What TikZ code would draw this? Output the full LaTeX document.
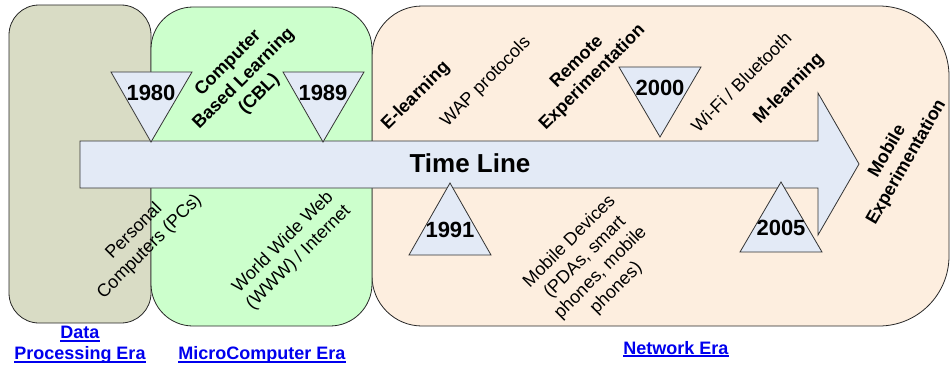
\documentclass[tikz,border=0pt]{standalone}
\usepackage{fontspec}
\setmainfont{Liberation Sans}
\definecolor{dpc}{HTML}{D9DCC5}
\definecolor{mcc}{HTML}{CCFFCC}
\definecolor{nwc}{HTML}{FDEEDF}
\definecolor{arrowc}{HTML}{E3EAF6}
\definecolor{eraBlue}{HTML}{0000EE}
\newcommand\eraul[1]{\setbox0=\hbox{#1}\rlap{\rule[-3pt]{\wd0}{1.6pt}}\box0}
\begin{document}
\begin{tikzpicture}[x=1pt,y=-1pt,
  era/.style={draw=black!85, line width=0.8pt},
  tl/.style={draw=black!80, fill=arrowc, line width=0.8pt, line join=miter},
  yr/.style={font=\fontsize{22}{24}\selectfont\bfseries, inner sep=0pt},
  lbl/.style={font=\fontsize{18}{22}\selectfont, align=center, rotate=45, inner sep=0pt},
  blbl/.style={font=\fontsize{18}{22}\selectfont\bfseries, align=center, rotate=45, inner sep=0pt},
  eralbl/.style={font=\fontsize{18}{21}\selectfont\bfseries, text=eraBlue, align=center, inner sep=0pt}]
\useasboundingbox (0,0) rectangle (950,369);
% eras
\draw[era, fill=dpc, rounded corners=30pt] (9,5) rectangle (151,323);
\draw[era, fill=nwc] (422,6) -- (879,6) arc[start angle=270, end angle=360, radius=70]
  -- (949,256) arc[start angle=0, end angle=90, radius=70]
  -- (422,326) arc[start angle=90, end angle=180, radius=50]
  -- (372,56) arc[start angle=180, end angle=270, radius=50] -- cycle;
\draw[era, fill=mcc, rounded corners=42pt] (151,7) rectangle (372,326);
% time line arrow
\draw[tl] (80,141) -- (818,141) -- (818,93) -- (859,164) -- (818,235) -- (818,188) -- (80,188) -- cycle;
\node[font=\fontsize{26}{28}\selectfont\bfseries, inner sep=0pt] (tline) at (470,163) {Time Line};
% triangles
\draw[tl] (111,72) -- (192,72) -- (151,142) -- cycle;
\node[yr] (y1980) at (151,93) {1980};
\draw[tl] (283,72) -- (364,72) -- (323,142) -- cycle;
\node[yr] (y1989) at (323,93) {1989};
\draw[tl] (619,67) -- (701,67) -- (660,137) -- cycle;
\node[yr] (y2000) at (660,88) {2000};
\draw[tl] (450,183) -- (491,255) -- (409,255) -- cycle;
\node[yr] (y1991) at (450,230) {1991};
\draw[tl] (781,182) -- (822,252) -- (740,252) -- cycle;
\node[yr] (y2005) at (781,228) {2005};
% labels
\node[blbl] (cbl) at (244,79) {Computer\\Based Learning\\(CBL)};
\node[lbl] (pcs) at (142,239) {Personal\\Computers (PCs)};
\node[lbl] (www) at (291,250) {World Wide Web\\(WWW) / Internet};
\node[blbl] (elearn) at (416,96) {E-learning};
\node[lbl] (wap) at (486,82) {WAP protocols};
\node[blbl] (remote) at (585,70) {Remote\\Experimentation};
\node[lbl] (mobdev) at (593,265) {Mobile Devices\\(PDAs, smart\\phones, mobile\\phones)};
\node[lbl] (wifi) at (741,82) {Wi-Fi / Bluetooth};
\node[blbl] (mlearn) at (789,89) {M-learning};
\node[font=\fontsize{18}{22}\selectfont\bfseries, align=center, rotate=60, inner sep=0pt] (mobexp) at (897,157) {Mobile\\Experimentation};
% era labels
\node[eralbl] (dpera) at (80,345) {\eraul{Data}\\\eraul{Processing Era}};
\node[eralbl] (mcera) at (262,355) {\eraul{MicroComputer Era}};
\node[eralbl] (nwera) at (676,349) {\eraul{Network Era}};
\end{tikzpicture}
\end{document}
